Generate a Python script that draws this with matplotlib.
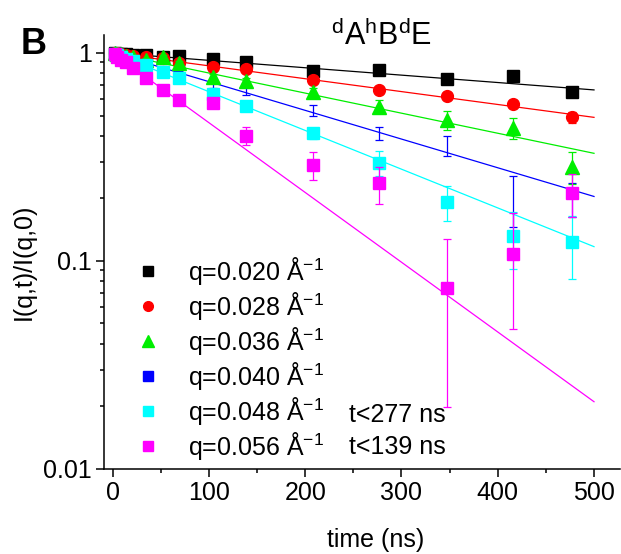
import numpy as np
import matplotlib
matplotlib.use("Agg")
import matplotlib.pyplot as plt
from matplotlib.lines import Line2D

plt.rcParams['font.family'] = ['Liberation Sans', 'DejaVu Sans']
plt.rcParams['mathtext.fontset'] = 'custom'
plt.rcParams['mathtext.rm'] = 'Liberation Sans'
plt.rcParams['mathtext.it'] = 'Liberation Sans'
plt.rcParams['mathtext.bf'] = 'Liberation Sans:bold'

# ---- data ----
time_ns = [2, 5, 9, 14, 21, 35, 52, 69, 104, 139, 208, 277, 347, 416, 477]

labels = ["q=0.020 Å$^{-1}$", "q=0.028 Å$^{-1}$", "q=0.036 Å$^{-1}$",
          "q=0.040 Å$^{-1}$", "q=0.048 Å$^{-1}$", "q=0.056 Å$^{-1}$"]
colors = ["#000000", "#ff0000", "#00ee00", "#0000ff", "#00ffff", "#ff00ff"]
markers = ["s", "o", "^", "s", "s", "s"]

I_q020 = [1.0, 0.99, 0.99, 0.985, 0.98, 0.975, 0.96, 0.965, 0.933, 0.908, 0.819, 0.828, 0.747, 0.775, 0.651]
I_q028 = [1.0, 0.995, 0.99, 0.98, 0.97, 0.955, 0.95, 0.898, 0.853, 0.835, 0.742, 0.664, 0.623, 0.566, 0.49]
I_q036 = [1.0, 0.99, 0.985, 0.97, 0.96, 0.93, 0.96, 0.892, 0.77, 0.736, 0.651, 0.552, 0.476, 0.434, 0.284]
I_q040 = [0.995, 0.985, 0.97, 0.955, 0.935, 0.9, 0.85, 0.8, 0.70, 0.66, 0.53, 0.41, 0.36, 0.2, 0.2]
I_q048 = [0.99, 0.98, 0.96, 0.94, 0.91, 0.875, 0.813, 0.755, 0.635, 0.556, 0.41, 0.296, 0.192, 0.131, 0.123]
I_q056 = [0.99, 0.96, 0.93, 0.9, 0.85, 0.755, 0.664, 0.594, 0.573, 0.399, 0.289, 0.236, 0.0739, 0.108, 0.213]

err_q020 = [0.01, 0.01, 0.01, 0.01, 0.01, 0.01, 0.01, 0.01, 0.012, 0.012, 0.015, 0.015, 0.02, 0.02, 0.03]
err_q028 = [0.01, 0.01, 0.01, 0.01, 0.01, 0.01, 0.012, 0.012, 0.015, 0.015, 0.02, 0.02, 0.02, 0.025, 0.03]
err_q036 = [0.01, 0.01, 0.01, 0.01, 0.015, 0.015, 0.02, 0.02, 0.02, 0.025, 0.03, 0.04, 0.05, 0.05, 0.05]
err_q040 = [0.01, 0.01, 0.01, 0.015, 0.015, 0.02, 0.02, 0.02, 0.02, 0.03, 0.03, 0.03, 0.04, 0.055, 0.037]
err_q048 = [0.01, 0.01, 0.015, 0.015, 0.02, 0.02, 0.02, 0.02, 0.02, 0.025, 0.025, 0.04, 0.036, 0.04, 0.041]
err_q056 = [0.01, 0.015, 0.015, 0.02, 0.02, 0.02, 0.02, 0.02, 0.025, 0.04, 0.045, 0.048, 0.054, 0.061, 0.05]

# fit lines: value at t=0 and at t=500 ns
fit_t = [0, 500]
fit_start = [1.0, 1.0, 1.0, 1.0, 1.0, 1.0]
fit_end = [0.664, 0.49, 0.329, 0.204, 0.117, 0.021]

series = [I_q020, I_q028, I_q036, I_q040, I_q048, I_q056]
errors = [err_q020, err_q028, err_q036, err_q040, err_q048, err_q056]

xticks = [0, 100, 200, 300, 400, 500]

# ---- figure ----
W, H = 621, 554
fig = plt.figure(figsize=(W / 100, H / 100), dpi=100)
ax = fig.add_axes([104 / W, 1 - 468.7 / H, (620 - 104) / W, (468.7 - 35) / H])

handles = []
for k in range(6):
    ax.plot(fit_t, [fit_start[k], fit_end[k]], color=colors[k], lw=0.9, zorder=2)
for k in range(6):
    if k == 3:
        ax.errorbar(time_ns, series[k], yerr=errors[k], fmt='none',
                    ecolor=colors[k], elinewidth=0.9, capsize=3.2, capthick=0.9, zorder=3)
    else:
        ax.errorbar(time_ns, series[k], yerr=errors[k], fmt=markers[k],
                    color=colors[k], ms=8.5 if markers[k] != '^' else 9.5,
                    mec=colors[k], ecolor=colors[k], elinewidth=0.9,
                    capsize=3.2, capthick=0.9, zorder=3 + k)
    handles.append(Line2D([], [], ls='none', marker=markers[k], color=colors[k],
                          ms=7 if markers[k] != '^' else 8))

ax.set_yscale('log')
ax.set_xlim(-9, 527)
ax.set_ylim(0.01, 1.22)
ax.set_xticks(xticks)
ax.set_xticks([50, 150, 250, 350, 450], minor=True)
ax.set_yticks([0.01, 0.1, 1])
ax.set_yticklabels(["0.01", "0.1", "1"])
ax.spines['top'].set_visible(False)
ax.spines['right'].set_visible(False)
for s in ['left', 'bottom']:
    ax.spines[s].set_linewidth(1.1)
ax.tick_params(which='major', direction='out', length=6, width=1.1, labelsize=18, pad=3)
ax.tick_params(which='minor', direction='out', length=3, width=1.1)
ax.patch.set_alpha(0)

leg = ax.legend(handles, labels, loc='upper left', bbox_to_anchor=(135 / W, 1 - 255 / H),
                bbox_transform=fig.transFigure, frameon=False, fontsize=18,
                handlelength=1.0, handletextpad=1.1, labelspacing=0.12, borderpad=0,
                borderaxespad=0)

fig.text(349 / W, 1 - 415 / H, "t<277 ns", fontsize=18, ha='left', va='center')
fig.text(349 / W, 1 - 447 / H, "t<139 ns", fontsize=18, ha='left', va='center')

fig.text(381 / W, 1 - 36 / H, r"$^{\mathregular{d}}$A$^{\mathregular{h}}$B$^{\mathregular{d}}$E",
         fontsize=22, ha='center', va='center')
fig.text(34 / W, 1 - 44 / H, "B", fontsize=26, fontweight='bold', ha='center', va='center')
fig.text(24 / W, 1 - 262 / H, "I(q,t)/I(q,0)", fontsize=18, rotation=90, ha='center', va='center')
fig.text(376 / W, 1 - 540 / H, "time (ns)", fontsize=18, ha='center', va='center')

fig.savefig("out.png", dpi=100)
